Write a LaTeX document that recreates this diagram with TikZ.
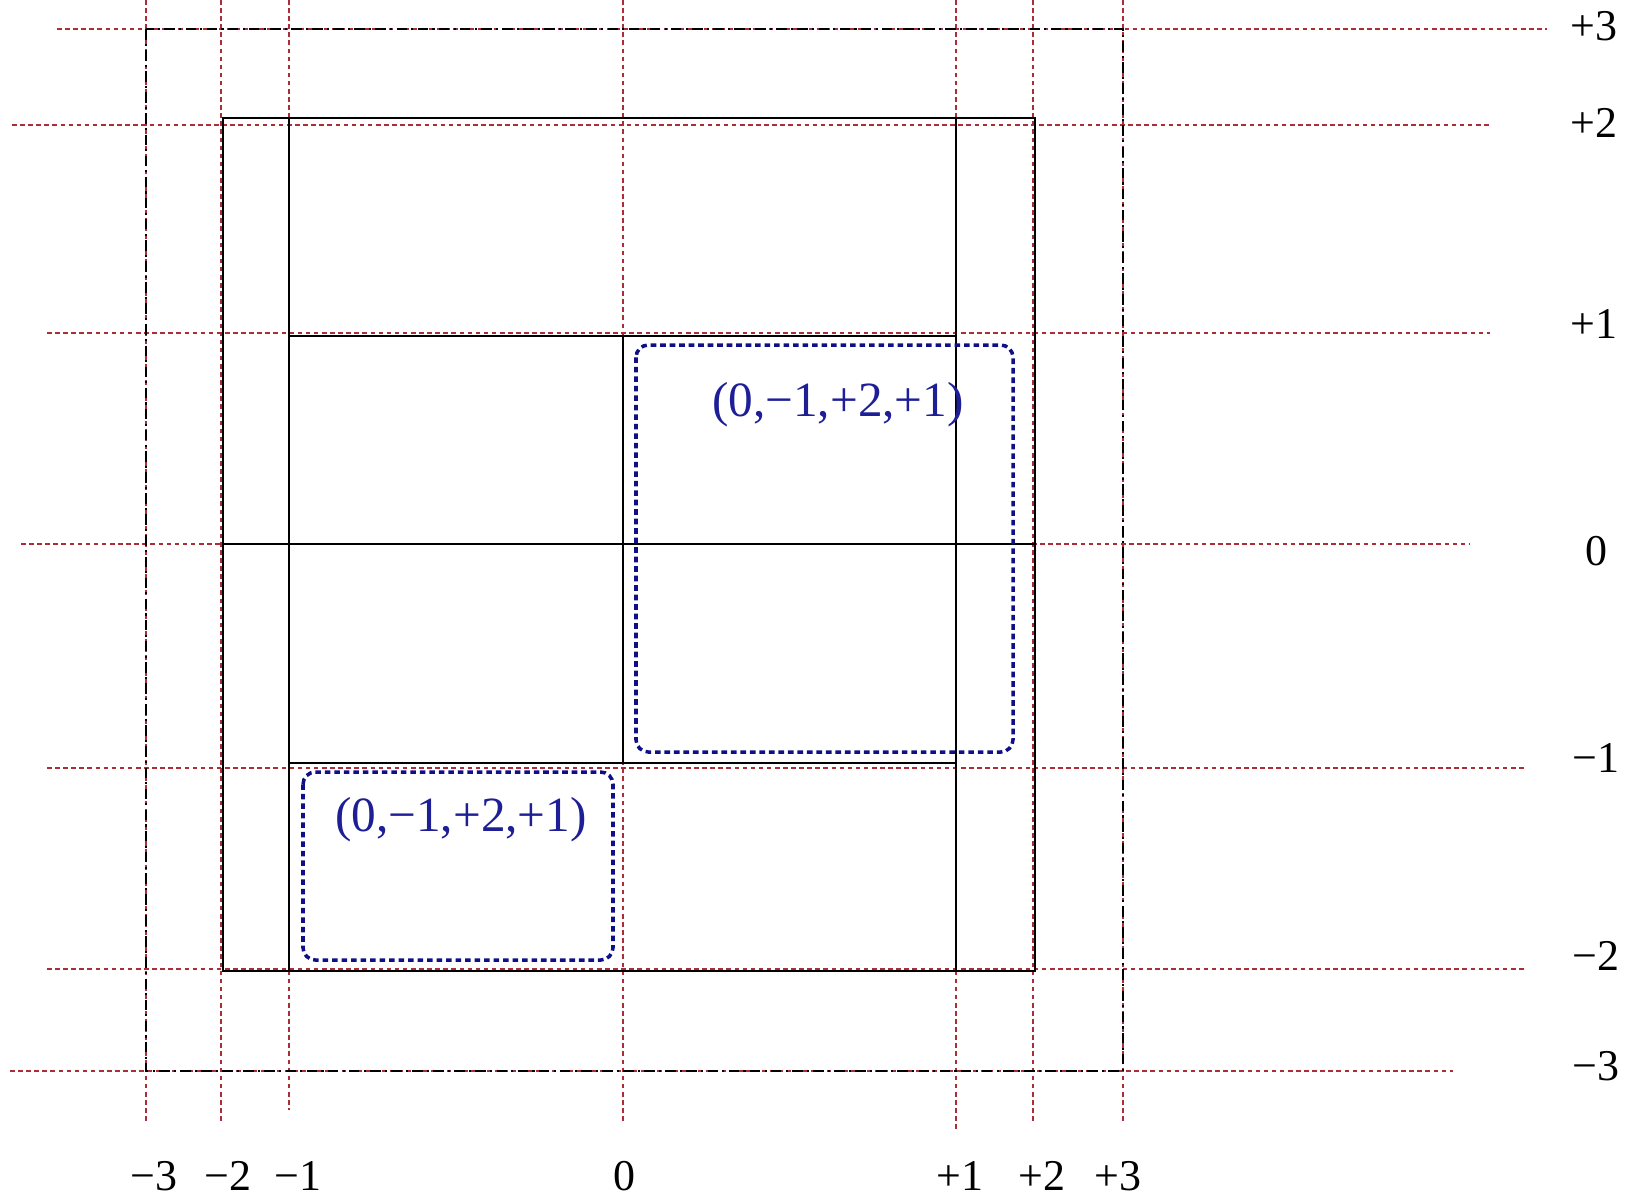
\documentclass[tikz,border=0pt]{standalone}
\usepackage{fontspec}
\setmainfont{Liberation Serif}
\usetikzlibrary{positioning}
\definecolor{gridred}{RGB}{170,45,55}
\definecolor{regionblue}{RGB}{15,15,135}
\definecolor{labelblue}{RGB}{30,30,150}

\begin{document}
\begin{tikzpicture}[x=0.01cm, y=-0.01cm,
		gridline/.style={gridred, line width=0.45pt, dash pattern=on 1.3pt off 1pt},
		bound/.style={black, line width=0.6pt, dash pattern=on 3pt off 1.2pt on 0.6pt off 1.2pt},
		wall/.style={black, line width=0.6pt},
		region/.style={regionblue, line width=1pt, dash pattern=on 1.6pt off 1.1pt, rounded corners=3.5pt},
		axislabel/.style={font=\fontsize{12.5}{15}\selectfont, inner sep=0pt},
		regionlabel/.style={labelblue, font=\fontsize{14}{16}\selectfont, inner sep=0pt}]
		
		\useasboundingbox (0,0) rectangle (1639,1196);
		
		% Linhas verticais da grade
		\draw[gridline] (146,0) -- (146,1124);
		\draw[gridline] (221,0) -- (221,1124);
		\draw[gridline] (289,0) -- (289,1110);
		\draw[gridline] (623,0) -- (623,1124);
		\draw[gridline] (956,0) -- (956,1129);
		\draw[gridline] (1033,0) -- (1033,1124);
		\draw[gridline] (1123,0) -- (1123,1124);
		
		% Linhas horizontais da grade
		\draw[gridline] (57,29) -- (1547,29);
		\draw[gridline] (12,125) -- (1490,125);
		\draw[gridline] (47,333) -- (1490,333);
		\draw[gridline] (21,544) -- (1469,544);
		\draw[gridline] (47,768) -- (1526,768);
		\draw[gridline] (47,969) -- (1526,969);
		\draw[gridline] (10,1071) -- (1453,1071);
		
		% Limite externo (-3 .. +3)
		\draw[bound] (146,29) rectangle (1123,1071);
		
		% Paredes
		\draw[wall] (223,118) rectangle (1035,971);
		\draw[wall] (289,118) -- (289,971);
		\draw[wall] (956,118) -- (956,971);
		\draw[wall] (289,336) -- (956,336);
		\draw[wall] (223,544) -- (1035,544);
		\draw[wall] (623,336) -- (623,763);
		\draw[wall] (289,763) -- (956,763);
		
		% Regiões
		\draw[region] (636,345) rectangle (1013,752);
		\draw[region] (303,772) rectangle (613,960);
		\node[regionlabel] (reg_a) at (838,405) {(0,−1,+2,+1)};
		\node[regionlabel] (reg_b) at (461,820) {(0,−1,+2,+1)};
		
		% Rótulos à direita
		\node[axislabel] (y_p3) at (1594,26) {+3};
		\node[axislabel] (y_p2) at (1594,123) {+2};
		\node[axislabel] (y_p1) at (1594,324) {+1};
		\node[axislabel] (y_0) at (1596,551) {0};
		\node[axislabel] (y_m1) at (1596,758) {−1};
		\node[axislabel] (y_m2) at (1596,956) {−2};
		\node[axislabel] (y_m3) at (1596,1066) {−3};
		
		% Rótulos embaixo
		\node[axislabel] (x_m3) at (154,1176) {−3};
		\node[axislabel] (x_m2) at (228,1176) {−2};
		\node[axislabel] (x_m1) at (298,1176) {−1};
		\node[axislabel] (x_0) at (624,1176) {0};
		\node[axislabel] (x_p1) at (960,1176) {+1};
		\node[axislabel] (x_p2) at (1042,1176) {+2};
		\node[axislabel] (x_p3) at (1118,1176) {+3};
	\end{tikzpicture}
\end{document}
